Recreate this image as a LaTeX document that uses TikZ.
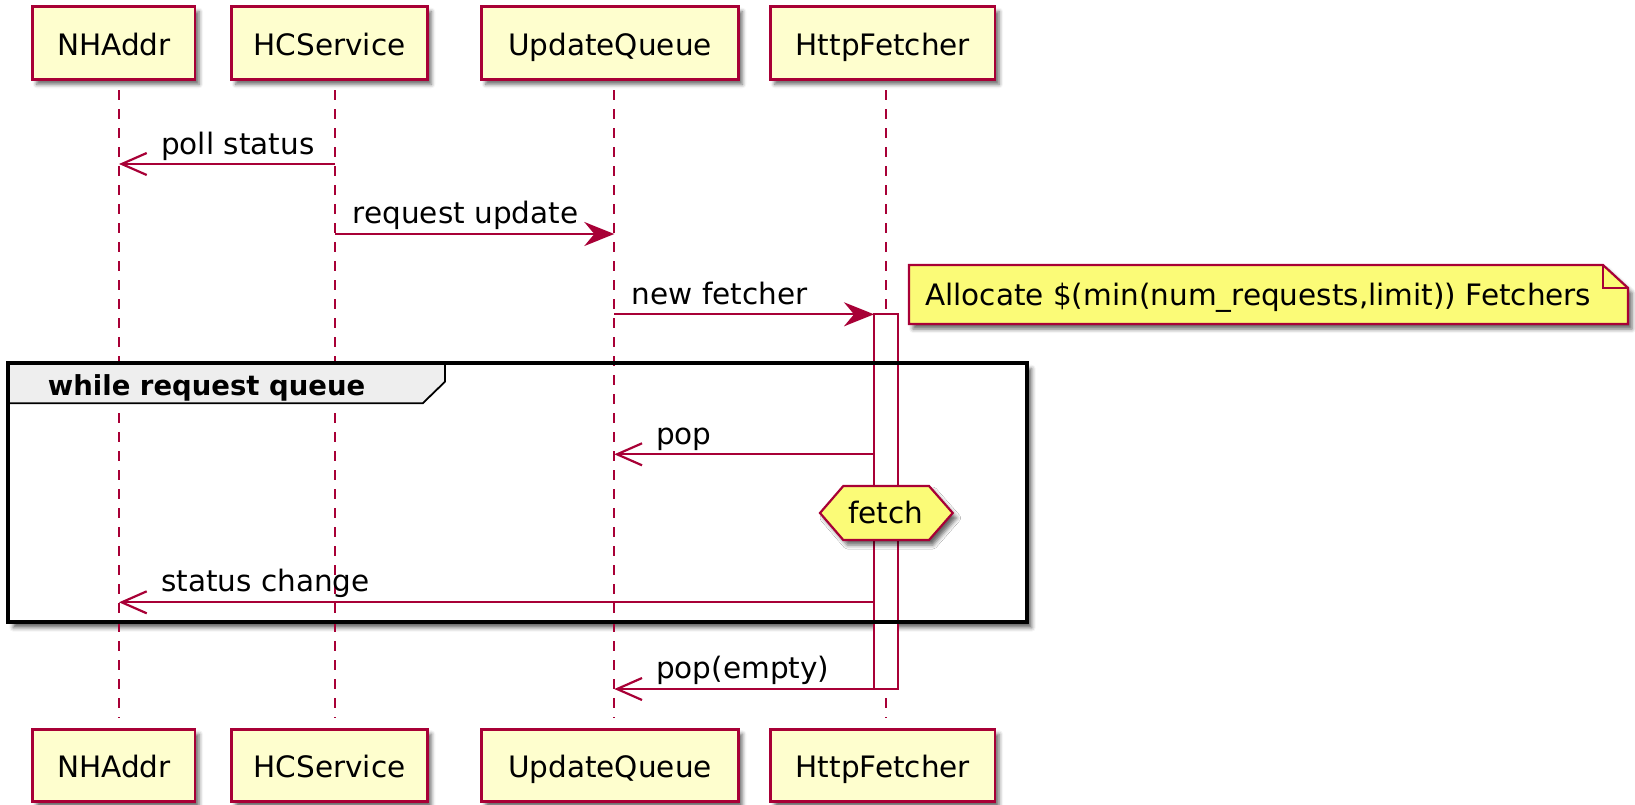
\documentclass[tikz,border=0pt]{standalone}
\usepackage{fontspec}
\setmainfont{DejaVu Sans}
\usetikzlibrary{arrows.meta,shadows.blur}
\definecolor{umlred}{HTML}{A80036}
\definecolor{partfill}{HTML}{FEFECE}
\definecolor{notefill}{HTML}{FBFB77}
\definecolor{tabfill}{HTML}{EEEEEE}

\begin{document}
\begin{tikzpicture}[x=1pt,y=-1pt,
  softshadow/.style={blur shadow={shadow xshift=4pt,shadow yshift=-5pt,shadow blur radius=4pt,shadow opacity=60}},
  txt/.style={font=\fontsize{29.5}{34}\selectfont, inner sep=0pt},
  part/.style={txt, draw=umlred, fill=partfill, line width=2.8pt, rectangle,
    minimum height=72.6pt, text height=24pt, text depth=0pt, softshadow},
  lifeline/.style={draw=umlred, line width=2.2pt, dash pattern=on 10pt off 9pt},
  msg/.style={draw=umlred, line width=2.2pt},
  sync/.style={msg, -{Stealth[length=30pt,width=24pt,inset=10pt]}},
  async/.style={msg, -{Straight Barb[length=25pt,width=22pt]}},
  lbl/.style={txt, anchor=base west},
]
\useasboundingbox (0,0) rectangle (1635,804);

% lifeline axes and activation edge
\coordinate (nh) at (119,0);
\coordinate (hc) at (335,0);
\coordinate (uq) at (614.3,0);
\coordinate (hf) at (885.7,0);
\coordinate (act) at (874,0);

% loop frame background
\path[fill=white, blur shadow={shadow xshift=5pt,shadow yshift=-6pt,shadow blur radius=4pt,shadow opacity=60}]
  (8.3,362.7) rectangle (1026.7,621.7);

% lifelines
\foreach \p in {nh,hc,uq,hf}
  \draw[lifeline] (\p |- 0,90) -- (\p |- 0,718);

% participants, top and bottom
\node[part, minimum width=162.3pt] (nhT) at (113.85,43) {NHAddr};
\node[part, minimum width=195.6pt] (hcT) at (329.5,43) {HCService};
\node[part, minimum width=256.6pt] (uqT) at (610,43) {UpdateQueue};
\node[part, minimum width=224.3pt] (hfT) at (882.85,43) {HttpFetcher};
\node[part, minimum width=162.3pt] (nhB) at (113.85,765.4) {NHAddr};
\node[part, minimum width=195.6pt] (hcB) at (329.5,765.4) {HCService};
\node[part, minimum width=256.6pt] (uqB) at (610,765.4) {UpdateQueue};
\node[part, minimum width=224.3pt] (hfB) at (882.85,765.4) {HttpFetcher};

% activation of HttpFetcher
\draw[umlred, fill=white, line width=2.2pt] (874,314) rectangle (898,689);

% loop frame and its tab
\draw[black, line width=1.8pt, fill=tabfill]
  (8.3,362.7) -- (445,362.7) -- (445,381.7) -- (422.7,403.3) -- (8.3,403.3) -- cycle;
\node[txt, anchor=base west, font=\fontsize{27.5}{32}\selectfont\bfseries] (looplbl) at (47.7,395) {while request queue};
\draw[black, line width=4.2pt] (8.3,362.7) rectangle (1026.7,621.7);

% messages
\draw[async] (hc |- 0,164) -- (nh |- 0,164);
\node[lbl] (m1) at (161,154) {poll status};

\draw[sync] (hc |- 0,234) -- (uq |- 0,234);
\node[lbl] (m2) at (352.7,223) {request update};

\draw[sync] (uq |- 0,314.3) -- (act |- 0,314.3);
\node[lbl] (m3) at (631.7,304) {new fetcher};

\draw[async] (act |- 0,454.3) -- (uq |- 0,454.3);
\node[lbl] (m4) at (656,444.5) {pop};

\draw[async] (act |- 0,602.3) -- (nh |- 0,602.3);
\node[lbl] (m5) at (161,591) {status change};

\draw[async] (act |- 0,689) -- (uq |- 0,689);
\node[lbl] (m6) at (656,678.5) {pop(empty)};

% fetch hexagon
\path[draw=umlred, fill=notefill, line width=2.2pt, softshadow]
  (820,513) -- (843.3,486) -- (929,486) -- (952.7,513) -- (929,540) -- (843.3,540) -- cycle;
\node[txt, anchor=base] (fetch) at (885.7,523.3) {fetch};

% note
\path[draw=umlred, fill=notefill, line width=2.2pt, softshadow, line join=miter]
  (909,265) -- (1603,265) -- (1628,288) -- (1628,324) -- (909,324) -- cycle;
\draw[umlred, line width=2.2pt] (1603,265) -- (1603,288) -- (1628,288);
\node[lbl] (note) at (925,305) {Allocate \$(min(num\_requests,limit)) Fetchers};
\end{tikzpicture}
\end{document}
